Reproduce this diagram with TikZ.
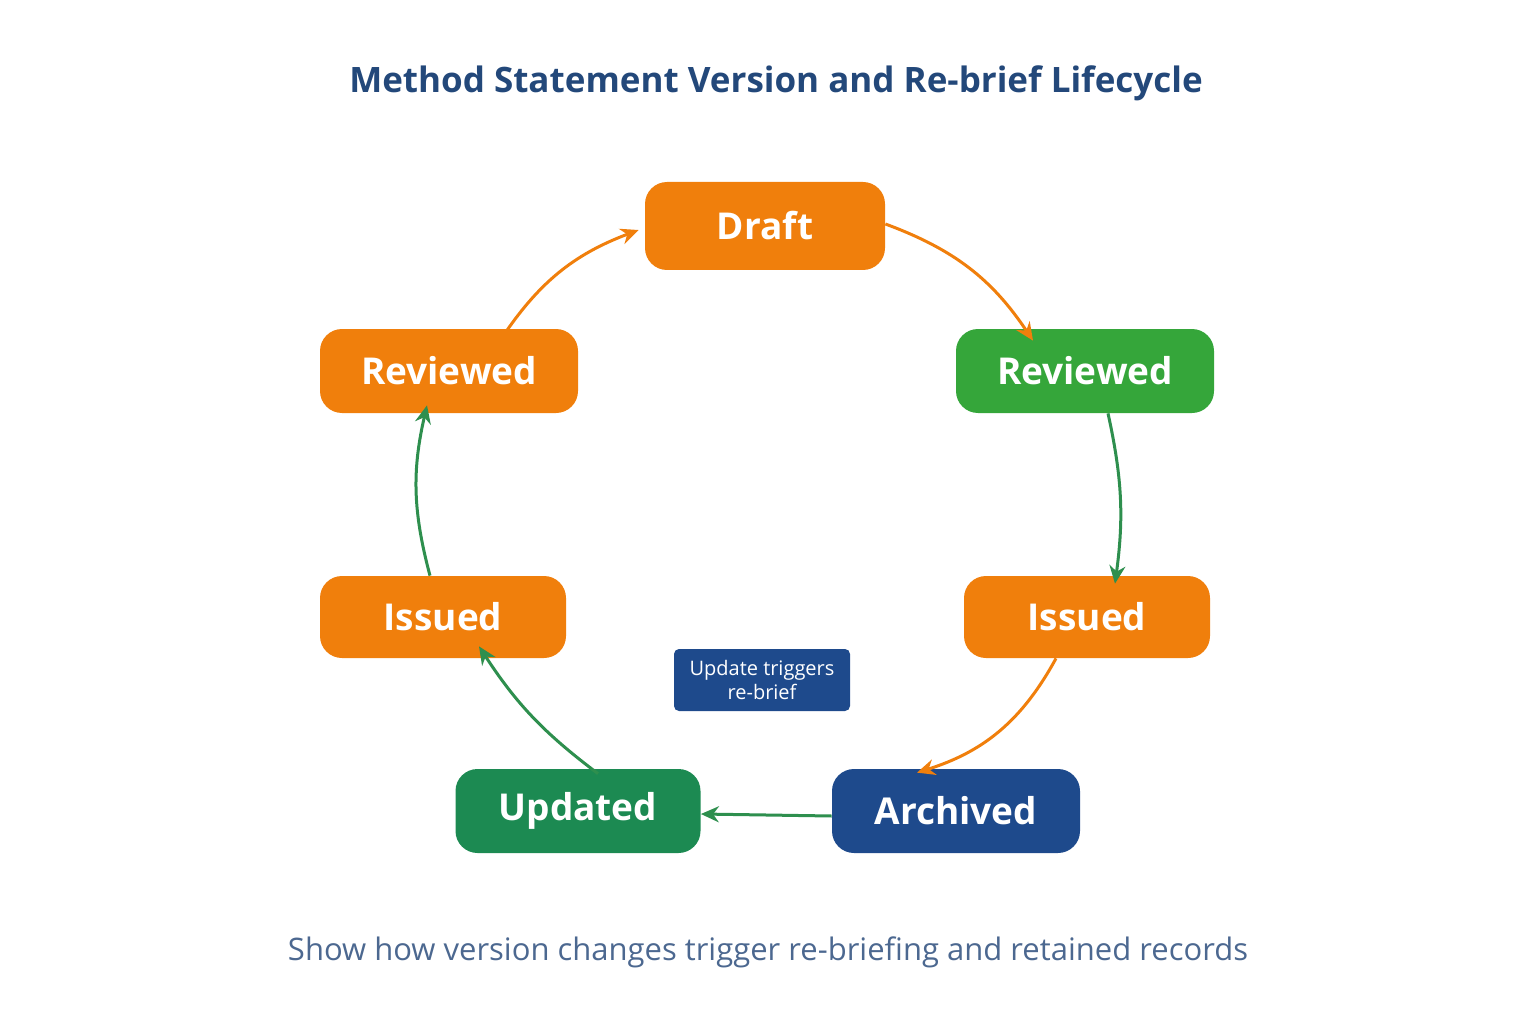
\documentclass[tikz,border=0pt]{standalone}
\usepackage{fontspec}
\setmainfont{Open Sans}
\usetikzlibrary{arrows.meta}
\definecolor{corange}{HTML}{F07F0C}
\definecolor{cgreen}{HTML}{35A63A}
\definecolor{cteal}{HTML}{1C8A52}
\definecolor{cblue}{HTML}{1E4A8C}
\definecolor{ctitle}{HTML}{23487A}
\definecolor{csub}{HTML}{4C6890}
\definecolor{agreen}{HTML}{2E8F4E}
\tikzset{every picture/.style={line width=0.75pt}}
\tikzset{state/.style={rounded corners=22pt, text=white, font=\bfseries\fontsize{37}{42}\selectfont, inner sep=0pt},
  flow/.style={line width=3pt, -{Stealth[length=18pt,width=16pt]}}}
\begin{document}
\begin{tikzpicture}[x=1pt,y=1pt,yscale=-1,xscale=1]
\useasboundingbox (0,0) rectangle (1536,1024);

% Title and subtitle
\node (title) at (776,83) [text=ctitle, font=\bfseries\fontsize{35}{40}\selectfont] {Method Statement Version and Re-brief Lifecycle};
\node (sub) at (768,952) [text=csub, font=\fontsize{31}{36}\selectfont] {Show how version changes trigger re-briefing and retained records};

% States
\node (draft) at (765,226) [state, fill=corange, minimum width=240pt, minimum height=88pt] {Draft};
\node (revR) at (1085,371) [state, fill=cgreen, minimum width=258pt, minimum height=84pt] {Reviewed};
\node (issR) at (1087,617) [state, fill=corange, minimum width=246pt, minimum height=82pt] {Issued};
\node (arch) at (956,811) [state, fill=cblue, minimum width=248pt, minimum height=84pt] {Archived};
\node (upd) at (578,811) [state, fill=cteal, minimum width=245pt, minimum height=84pt] {Updated};
\node (issL) at (443,617) [state, fill=corange, minimum width=246pt, minimum height=82pt] {Issued};
\node (revL) at (449,371) [state, fill=corange, minimum width=258pt, minimum height=84pt] {Reviewed};

% Note
\node (note) at (762,680) [fill=cblue, rounded corners=5pt, text=white, minimum width=176pt, minimum height=62pt, align=center, font=\fontsize{20}{24}\selectfont] {Update triggers\\re-brief};

% Connectors
\draw [flow, corange] ([yshift=-2pt]draft.east) to[bend right=18] ([xshift=-52pt,yshift=12pt]revR.north);
\draw [flow, agreen] ([xshift=23pt]revR.south) to[bend right=10] ([xshift=28pt,yshift=8pt]issR.north);
\draw [flow, corange] ([xshift=-31pt]issR.south) to[bend right=22] ([xshift=-39pt,yshift=4pt]arch.north);
\draw [flow, agreen] ([yshift=5pt]arch.west) to ([yshift=3pt]upd.east);
\draw [flow, agreen] ([xshift=20pt,yshift=5pt]upd.north) to[bend right=10] ([xshift=36pt,yshift=-12pt]issL.south);
\draw [flow, agreen] ([xshift=-13pt]issL.north) to[bend right=14] ([xshift=-22pt,yshift=-8pt]revL.south);
\draw [flow, corange] ([xshift=51pt,yshift=12pt]revL.north) to[bend right=18] ([xshift=-6pt,yshift=4pt]draft.west);

\end{tikzpicture}
\end{document}
